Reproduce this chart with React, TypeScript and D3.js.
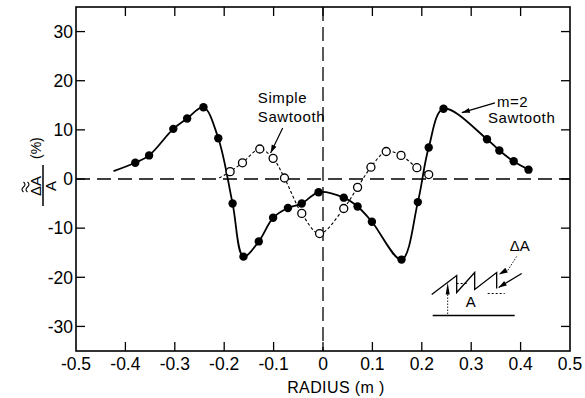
import * as d3 from 'd3';

const radiusTicks = [-0.5, -0.4, -0.3, -0.2, -0.1, 0, 0.1, 0.2, 0.3, 0.4, 0.5];
const radiusLabels = ['-0.5', '-0.4', '-0.3', '-0.2', '-0.1', '0', '0.1', '0.2', '0.3', '0.4', '0.5'];
const pctTicks = [30, 20, 10, 0, -10, -20, -30];
const pctLabels = ['30', '20', '10', '0', '-10', '-20', '-30'];

// m=2 sawtooth, filled dots
const m2Radius = [-0.38, -0.352, -0.303, -0.275, -0.242, -0.212, -0.183, -0.161, -0.13, -0.101, -0.071, -0.043, -0.009,
  0.042, 0.07, 0.099, 0.159, 0.192, 0.214, 0.244, 0.332, 0.357, 0.386, 0.416];
const m2Pct = [3.3, 4.8, 10.2, 12.3, 14.6, 8.3, -5.0, -15.8, -12.7, -7.9, -5.9, -5.0, -2.7,
  -3.8, -5.6, -8.7, -16.4, -4.7, 6.4, 14.3, 8.1, 5.8, 3.6, 1.9];
const m2CurveStart: [number, number] = [-0.424, 1.6];

// simple sawtooth, open circles
const simpleRadius = [-0.188, -0.163, -0.128, -0.101, -0.078, -0.043, -0.007, 0.042, 0.07, 0.097, 0.128, 0.158, 0.19, 0.214];
const simplePct = [1.5, 3.3, 6.1, 4.2, 0.2, -7.0, -11.1, -6.0, -1.7, 2.4, 5.6, 4.8, 2.3, 0.9];
const simpleCurveStart: [number, number] = [-0.21, 0.2];

const W = 585;
const H = 398;
const FONT = '"Liberation Sans", Arial, sans-serif';

function arrowHead(tip: [number, number], from: [number, number], len = 8, half = 2.6) {
  const dx = tip[0] - from[0];
  const dy = tip[1] - from[1];
  const d = Math.hypot(dx, dy) || 1;
  const ux = dx / d;
  const uy = dy / d;
  const bx = tip[0] - ux * len;
  const by = tip[1] - uy * len;
  return `M${tip[0]},${tip[1]}L${bx - uy * half},${by + ux * half}L${bx + uy * half},${by - ux * half}Z`;
}

export default function App() {
  const x = d3.scaleLinear().domain([-0.5, 0.5]).range([76, 570]);
  const y = d3.scaleLinear().domain([-35, 35]).range([351, 7]);

  const m2Pts: [number, number][] = m2Radius.map((r, i) => [r, m2Pct[i]]);
  const simplePts: [number, number][] = simpleRadius.map((r, i) => [r, simplePct[i]]);

  const line = d3
    .line<[number, number]>()
    .x((d) => x(d[0]))
    .y((d) => y(d[1]))
    .curve(d3.curveCatmullRom.alpha(0.5));

  const left = x(-0.5);
  const right = x(0.5);
  const top = y(35);
  const bottom = y(-35);
  const tk = 9;

  // annotation anchors (data coords)
  const simpleFrom: [number, number] = [x(-0.0816), y(10.4)];
  const simpleTip: [number, number] = [x(-0.106), y(5.3)];
  const m2From: [number, number] = [x(0.348), y(15.5)];
  const m2Tip: [number, number] = [x(0.281), y(13.5)];

  const ix = x(0.22);
  const iy = y(-23.5);

  return (
    <svg width={W} height={H} style={{ position: 'absolute', left: 0, top: 0, background: '#fff' }}
      fontFamily={FONT}>
      <rect width={W} height={H} fill="#fff" />

      {/* zero lines */}
      <line x1={left} x2={right} y1={y(0)} y2={y(0)} stroke="#000" strokeWidth={1.3} strokeDasharray="14,7" />
      <line x1={x(0)} x2={x(0)} y1={top} y2={bottom} stroke="#000" strokeWidth={1.3} strokeDasharray="14,6" />

      {/* frame */}
      <rect x={left} y={top} width={right - left} height={bottom - top} fill="none" stroke="#000" strokeWidth={1.6} />

      {/* x ticks */}
      {radiusTicks.map((t, i) => (
        <g key={'x' + i}>
          {i > 0 && i < radiusTicks.length - 1 && (
            <>
              <line x1={x(t)} x2={x(t)} y1={bottom} y2={bottom - tk} stroke="#000" strokeWidth={1.3} />
              <line x1={x(t)} x2={x(t)} y1={top} y2={top + tk} stroke="#000" strokeWidth={1.3} />
            </>
          )}
          <text x={x(t)} y={370} textAnchor="middle" fontSize={17.5}>
            {radiusLabels[i]}
          </text>
        </g>
      ))}

      {/* y ticks */}
      {pctTicks.map((t, i) => (
        <g key={'y' + i}>
          <line x1={left} x2={left + tk} y1={y(t)} y2={y(t)} stroke="#000" strokeWidth={1.3} />
          <line x1={right} x2={right - tk} y1={y(t)} y2={y(t)} stroke="#000" strokeWidth={1.3} />
          <text x={73} y={y(t)} dy="0.36em" textAnchor="end" fontSize={17.5}>
            {pctLabels[i]}
          </text>
        </g>
      ))}

      {/* axis titles */}
      <text x={336} y={393} textAnchor="middle" fontSize={16} letterSpacing={0.4}>
        RADIUS (m )
      </text>
      <g transform={`translate(43,186) rotate(-90)`}>
        <line x1={-20} x2={21} y1={0} y2={0} stroke="#000" strokeWidth={1.5} />
        <text x={0} y={-2} textAnchor="middle" fontSize={15}>ΔA</text>
        <path d="M-6,-15.5 q2.5,-3 5,0 t5,0 M-6,-19.5 q2.5,-3 5,0 t5,0" fill="none" stroke="#000" strokeWidth={1.1} />
        <text x={0} y={13} textAnchor="middle" fontSize={15}>A</text>
        <text x={27} y={-2} fontSize={14}>(%)</text>
      </g>

      {/* curves */}
      <path d={line([m2CurveStart, ...m2Pts]) || ''} fill="none" stroke="#000" strokeWidth={1.8} />
      <path d={line([simpleCurveStart, ...simplePts]) || ''} fill="none" stroke="#000" strokeWidth={1.1}
        strokeDasharray="3,2.2" />

      {/* markers */}
      {simplePts.map((d, i) => (
        <circle key={'s' + i} cx={x(d[0])} cy={y(d[1])} r={4} fill="#fff" stroke="#000" strokeWidth={1.3} />
      ))}
      {m2Pts.map((d, i) => (
        <circle key={'m' + i} cx={x(d[0])} cy={y(d[1])} r={4.2} fill="#000" />
      ))}

      {/* annotations */}
      <text x={x(-0.132)} y={y(15.5)} fontSize={15} letterSpacing={0.6}>Simple</text>
      <text x={x(-0.132)} y={y(11.5)} fontSize={15} letterSpacing={0.6}>Sawtooth</text>
      <line x1={simpleFrom[0]} y1={simpleFrom[1]} x2={simpleTip[0]} y2={simpleTip[1]} stroke="#000" strokeWidth={1.2} />
      <path d={arrowHead(simpleTip, simpleFrom)} fill="#000" />

      <text x={x(0.352)} y={y(14.7)} fontSize={15} letterSpacing={0.6}>m=2</text>
      <text x={x(0.334)} y={y(11.3)} fontSize={15} letterSpacing={0.6}>Sawtooth</text>
      <line x1={m2From[0]} y1={m2From[1]} x2={m2Tip[0]} y2={m2Tip[1]} stroke="#000" strokeWidth={1.2} />
      <path d={arrowHead(m2Tip, m2From)} fill="#000" />

      {/* inset sketch */}
      <g transform={`translate(${ix},${iy})`} stroke="#000" fill="none" strokeWidth={1.3}>
        <path d="M0,0 L25,-19 L25,-2 L43,-22 L43,-5 L65,-22 L65,-6" />
        <line x1={25} x2={37} y1={-11} y2={-11} strokeDasharray="2,2" strokeWidth={1} />
        <line x1={56} x2={73} y1={-1} y2={-1} strokeDasharray="2,2" strokeWidth={1} />
        <line x1={1} x2={83} y1={21} y2={21} />
        <line x1={16} x2={16} y1={0} y2={21} strokeDasharray="1.5,1.5" strokeWidth={0.9} />
        <path d="M16,-12 L14,0 L18,0 Z" fill="#000" stroke="none" />
        <line x1={85} y1={-38} x2={76} y2={-24} strokeDasharray="1.5,1.5" strokeWidth={0.9} />
        <path d={arrowHead([67, -20], [76, -25], 9, 2.6)} fill="#000" stroke="none" />
        <line x1={90} y1={-21} x2={67} y2={-7} />
        <path d={arrowHead([67, -7], [90, -21], 8, 2.6)} fill="#000" stroke="none" />
        <text x={39} y={13} textAnchor="middle" fontSize={15} fill="#000" stroke="none">A</text>
        <text x={78} y={-43} fontSize={15} fill="#000" stroke="none">ΔA</text>
      </g>
    </svg>
  );
}
